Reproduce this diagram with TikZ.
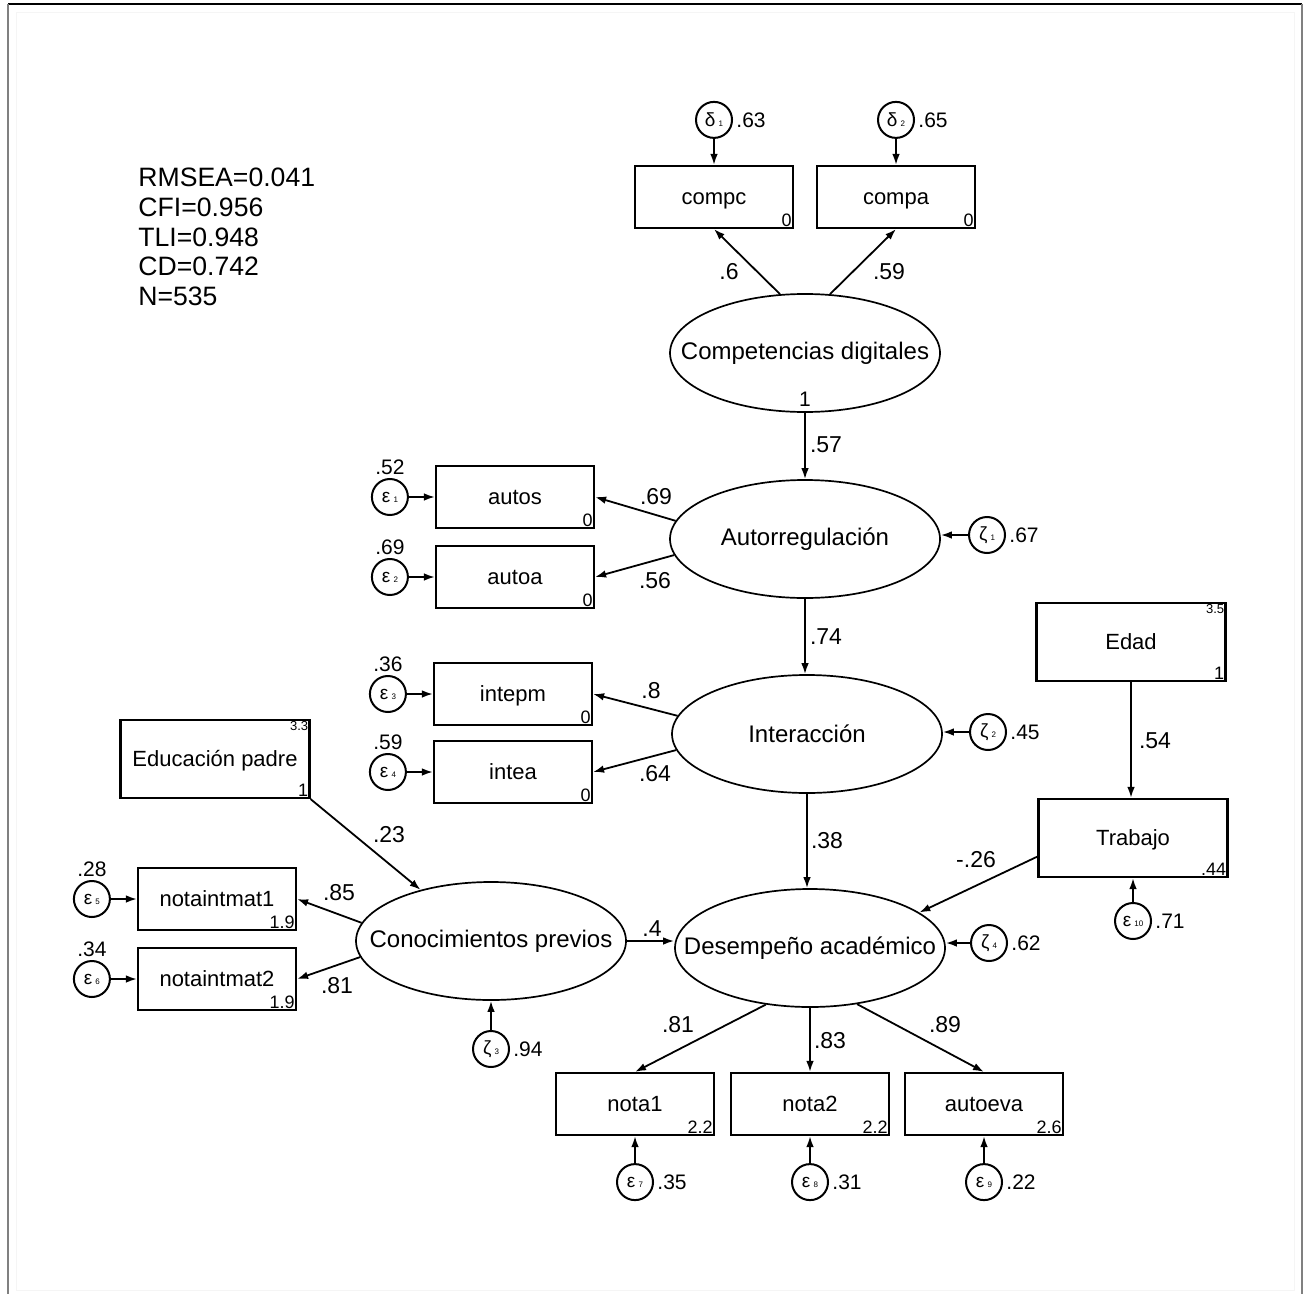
\documentclass[tikz,border=0pt]{standalone}
\usepackage{fontspec}
\setmainfont{Liberation Sans}
\usetikzlibrary{shapes.geometric,arrows.meta}

\newcommand{\errsym}[2]{#1\,{\fontsize{4}{4}\selectfont #2}}
\newcommand{\lv}[1]{\makebox[0pt]{#1}}

\tikzset{
  obs/.style={draw, line width=1.1pt, minimum width=79pt, minimum height=31pt, inner sep=0pt, text height=7.8pt, text depth=0pt, font=\fontsize{11}{13}\selectfont},
  exobox/.style={obs, minimum width=94.5pt, minimum height=39pt},
  latent/.style={draw, ellipse, line width=0.85pt, minimum width=135pt, minimum height=59pt, inner sep=0pt, font=\fontsize{12}{14}\selectfont},
  err/.style={draw, circle, line width=1pt, minimum size=18pt, inner sep=0pt, font=\fontsize{9.5}{10}\selectfont},
  arr/.style={-{Latex[length=5.5pt,width=3.8pt]}, line width=0.9pt},
  coef/.style={font=\fontsize{11.5}{13}\selectfont, inner sep=0pt},
  varlab/.style={font=\fontsize{10.5}{12}\selectfont, inner sep=1.5pt},
  meanlab/.style={font=\fontsize{9}{10}\selectfont, inner sep=1pt},
  tinymean/.style={font=\fontsize{6.5}{7}\selectfont, inner sep=1pt},
}

\begin{document}
\begin{tikzpicture}[x=0.5pt, y=-0.5pt]
    \useasboundingbox (0,0) rectangle (1309,1294);
    % frame
    \draw[line width=1pt] (8,4) -- (1302,4);
    \draw[gray, line width=1.2pt] (8,4) -- (8,1294);
    \draw[gray, line width=1.2pt] (1302,4) -- (1302,1294);
    \draw[black!4] (16,12) rectangle (1294,1290);

    % fit indices
    \node[align=left, anchor=west, inner sep=0pt, font=\fontsize{13.3}{14.9}\selectfont] (fit) at (138,237)
        {RMSEA=0.041\\CFI=0.956\\TLI=0.948\\CD=0.742\\N=535};

    % latent variables
    \node[latent] (cd) at (805,353) {\lv{Competencias digitales}};
    \node[coef, font=\fontsize{10.5}{12}\selectfont, anchor=south] (cd1) at ([yshift=3pt]cd.south) {1};
    \node[latent] (autor) at (805,539) {\lv{Autorregulación}};
    \node[latent] (inter) at (807,734) {\lv{Interacción}};
    \node[latent] (desemp) at (810,948) {\lv{Desempeño académico}};
    \node[latent] (conoc) at (491,941) {\lv{Conocimientos previos}};

    % observed exogenous
    \node[exobox] (edad) at (1131,642) {Edad};
    \node[tinymean, anchor=north east] (edadm) at (edad.north east) {3.5};
    \node[meanlab, anchor=south east] (edadv) at (edad.south east) {1};
    \node[exobox] (trab) at (1133,838) {Trabajo};
    \node[meanlab, anchor=south east] (trabm) at (trab.south east) {.44};
    \node[exobox] (edu) at (215,759) {Educación padre};
    \node[tinymean, anchor=north east] (edum) at (edu.north east) {3.3};
    \node[meanlab, anchor=south east] (eduv) at (edu.south east) {1};

    % indicators with errors on the left
    \foreach \n/\t/\x/\y/\m/\i/\v in {autos/autos/515/497/0/1/.52, autoa/autoa/515/577/0/2/.69,
        intepm/intepm/513/694/0/3/.36, intea/intea/513/772/0/4/.59,
        nmat1/notaintmat1/217/899/1.9/5/.28, nmat2/notaintmat2/217/979/1.9/6/.34} {
        \node[obs] (\n) at (\x,\y) {\t};
        \node[meanlab, anchor=south east] (\n m) at (\n.south east) {\m};
        \node[err] (e\i) at ([xshift=-22.5pt]\n.west) {\errsym{ε}{\i}};
        \node[varlab, anchor=south] (e\i v) at (e\i.north) {\v};
        \draw[arr] (e\i) -- (\n);
    }

    % indicators of competencias digitales
    \foreach \n/\x/\i/\v in {compc/714/1/.63, compa/896/2/.65} {
        \node[obs] (\n) at (\x,197) {\n};
        \node[meanlab, anchor=south east] (\n m) at (\n.south east) {0};
        \node[err] (d\i) at ([yshift=22.5pt]\n.north) {\errsym{δ}{\i}};
        \node[varlab, anchor=west] (d\i v) at (d\i.east) {\v};
        \draw[arr] (d\i) -- (\n);
    }

    % indicators of desempeno
    \foreach \n/\x/\m/\i/\v in {nota1/635/2.2/7/.35, nota2/810/2.2/8/.31, autoeva/984/2.6/9/.22} {
        \node[obs] (\n) at (\x,1104) {\n};
        \node[meanlab, anchor=south east] (\n m) at (\n.south east) {\m};
        \node[err] (e\i) at ([yshift=-23pt]\n.south) {\errsym{ε}{\i}};
        \node[varlab, anchor=west] (e\i v) at (e\i.east) {\v};
        \draw[arr] (e\i) -- (\n);
    }

    % disturbances
    \node[err] (e10) at (1133,921) {\errsym{ε}{10}};
    \node[varlab, anchor=west] (e10v) at (e10.east) {.71};
    \foreach \i/\x/\y/\v in {1/987/535/.67, 2/988/732/.45, 4/989/943/.62} {
        \node[err] (z\i) at (\x,\y) {\errsym{ζ}{\i}};
        \node[varlab, anchor=west] (z\i v) at (z\i.east) {\v};
    }
    \node[err] (z3) at (491,1049) {\errsym{ζ}{3}};
    \node[varlab, anchor=west] (z3v) at (z3.east) {.94};

    % paths
    \draw[arr] (cd.113) -- (compc.south);
    \draw[arr] (cd.67) -- (compa.south);
    \draw[arr] (cd) -- (autor);
    \draw[arr] (autor.172) -- (autos.east);
    \draw[arr] (autor.187) -- (autoa.east);
    \draw[arr] (autor.south) -- (autor.south |- inter.north);
    \draw[arr] (inter.172) -- (intepm.east);
    \draw[arr] (inter.187) -- (intea.east);
    \draw[arr] (inter.south) -- (inter.south |- desemp.north);
    \draw[arr] (edad.south) -- (edad.south |- trab.north);
    \draw[arr] (trab.191) -- (desemp.18);
    \draw[arr] (edu.south east) -- (conoc.144);
    \draw[arr] (conoc.east) -- (conoc.east -| desemp.west);
    \draw[arr] (conoc.172) -- (nmat1.east);
    \draw[arr] (conoc.187) -- (nmat2.east);
    \draw[arr] (desemp.232) -- (nota1.north);
    \draw[arr] (desemp) -- (nota2);
    \draw[arr] (desemp.310) -- (autoeva.north);
    \draw[arr] (z1) -- (z1 -| autor.east);
    \draw[arr] (z2) -- (z2 -| inter.east);
    \draw[arr] (z4) -- (z4 -| desemp.east);
    \draw[arr] (z3) -- (conoc);
    \draw[arr] (e10) -- (trab);

    % coefficients
    \foreach \t/\x/\y [count=\k] in {.6/729/272, .59/889/272, .57/826/445, .69/656/497, .56/655/581,
        .74/826/637, .8/651/691, .64/655/774, .38/827/841, .54/1155/741, -.26/976/860, .23/389/835,
        .4/652/929, .85/339/893, .81/337/986, .81/678/1025, .83/830/1041, .89/945/1025} {
        \node[coef] (c\k) at (\x,\y) {\t};
    }
\end{tikzpicture}
\end{document}
